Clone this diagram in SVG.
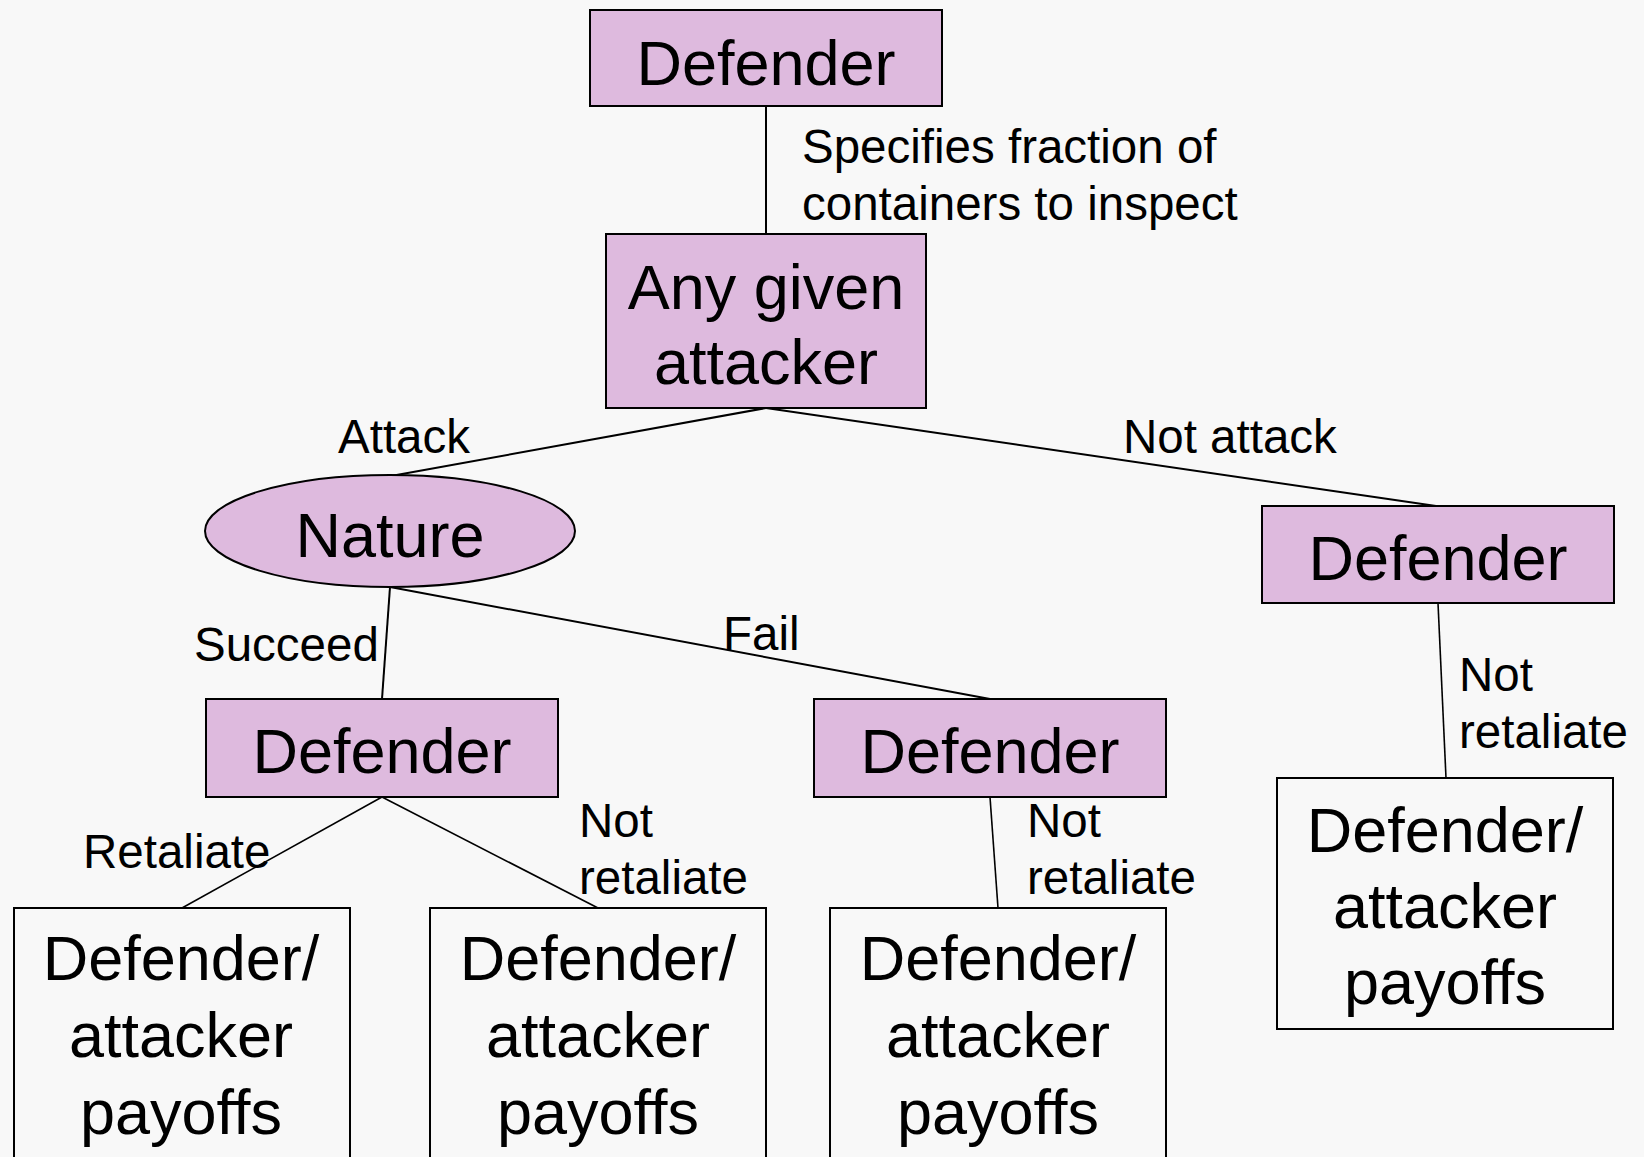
<svg xmlns="http://www.w3.org/2000/svg" width="1644" height="1157" viewBox="0 0 1644 1157">
  <style>
    .node { fill: #debade; stroke: #000; stroke-width: 2; }
    .leaf { fill: none; stroke: #000; stroke-width: 2; }
    .big { font-family: "Liberation Sans", Arial, sans-serif; font-size: 63px; fill: #000; text-anchor: middle; }
    .lbl { font-family: "Liberation Sans", Arial, sans-serif; font-size: 47.5px; fill: #000; }
    .edge { stroke: #000; stroke-width: 2; fill: none; }
    .edge-thin { stroke: #000; stroke-width: 1.6; fill: none; }
  </style>
  <rect x="0" y="0" width="1644" height="1157" fill="#f8f8f8"/>

  <!-- connectors and their labels -->
  <g id="connectors">
    <line class="edge" x1="766" y1="106" x2="766" y2="234"/>
    <line class="edge" x1="766" y1="408" x2="391" y2="476"/>
    <line class="edge" x1="766" y1="408" x2="1436" y2="506"/>
    <line class="edge" x1="390" y1="587" x2="382" y2="699"/>
    <line class="edge" x1="390" y1="587" x2="990" y2="699"/>
    <line class="edge-thin" x1="382" y1="797" x2="182" y2="908"/>
    <line class="edge-thin" x1="382" y1="797" x2="598" y2="908"/>
    <line class="edge-thin" x1="990" y1="797" x2="998" y2="908"/>
    <line class="edge-thin" x1="1438" y1="603" x2="1446" y2="778"/>

    <text class="lbl" x="802" y="163">Specifies fraction of</text>
    <text class="lbl" x="802" y="220">containers to inspect</text>
    <text class="lbl" x="338" y="453">Attack</text>
    <text class="lbl" x="1123" y="453">Not attack</text>
    <text class="lbl" x="194" y="661">Succeed</text>
    <text class="lbl" x="723" y="650">Fail</text>
    <text class="lbl" x="83" y="868">Retaliate</text>
    <text class="lbl" x="579" y="837">Not</text>
    <text class="lbl" x="579" y="894">retaliate</text>
    <text class="lbl" x="1027" y="837">Not</text>
    <text class="lbl" x="1027" y="894">retaliate</text>
    <text class="lbl" x="1459" y="691">Not</text>
    <text class="lbl" x="1459" y="748">retaliate</text>
  </g>

  <g id="defender-root">
    <rect class="node" x="590" y="10" width="352" height="96"/>
    <text class="big" x="766" y="85">Defender</text>
  </g>

  <g id="attacker">
    <rect class="node" x="606" y="234" width="320" height="174"/>
    <text class="big" x="766" y="309">Any given</text>
    <text class="big" x="766" y="384">attacker</text>
  </g>

  <g id="nature">
    <ellipse class="node" cx="390" cy="531" rx="185" ry="56"/>
    <text class="big" x="390" y="557">Nature</text>
  </g>

  <g id="defender-noattack">
    <rect class="node" x="1262" y="506" width="352" height="97"/>
    <text class="big" x="1438" y="580">Defender</text>
  </g>

  <g id="defender-succeed">
    <rect class="node" x="206" y="699" width="352" height="98"/>
    <text class="big" x="382" y="773">Defender</text>
  </g>

  <g id="defender-fail">
    <rect class="node" x="814" y="699" width="352" height="98"/>
    <text class="big" x="990" y="773">Defender</text>
  </g>

  <g id="payoff-retaliate">
    <rect class="leaf" x="14" y="908" width="336" height="270"/>
    <text class="big" x="181" y="980">Defender/</text>
    <text class="big" x="181" y="1057">attacker</text>
    <text class="big" x="181" y="1134">payoffs</text>
  </g>

  <g id="payoff-succeed-noretaliate">
    <rect class="leaf" x="430" y="908" width="336" height="270"/>
    <text class="big" x="598" y="980">Defender/</text>
    <text class="big" x="598" y="1057">attacker</text>
    <text class="big" x="598" y="1134">payoffs</text>
  </g>

  <g id="payoff-fail-noretaliate">
    <rect class="leaf" x="830" y="908" width="336" height="270"/>
    <text class="big" x="998" y="980">Defender/</text>
    <text class="big" x="998" y="1057">attacker</text>
    <text class="big" x="998" y="1134">payoffs</text>
  </g>

  <g id="payoff-noattack">
    <rect class="leaf" x="1277" y="778" width="336" height="251"/>
    <text class="big" x="1445" y="852">Defender/</text>
    <text class="big" x="1445" y="928">attacker</text>
    <text class="big" x="1445" y="1004">payoffs</text>
  </g>
</svg>
